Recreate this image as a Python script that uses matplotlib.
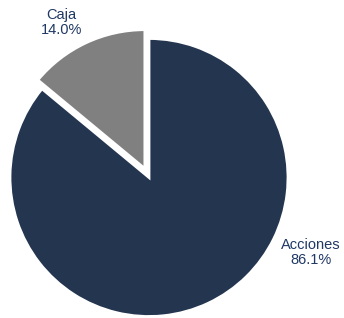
import matplotlib.pyplot as plt

# Datos
categorias = ["Acciones", "Caja"]
valores = [86.1, 14.0]
colores = ["#243550", "#808080"]
separacion = [0.0, 0.07]

plt.rcParams["font.family"] = ["Liberation Sans", "DejaVu Sans"]

fig = plt.figure(figsize=(3.44, 3.18), dpi=100)
ax = fig.add_axes([10 / 344, 1.5 / 318, 278 / 344, 278 / 318])

ax.pie(valores, colors=colores, explode=separacion, startangle=90,
       counterclock=False, wedgeprops=dict(edgecolor="white", linewidth=2))
ax.set_xlim(-1, 1)
ax.set_ylim(-1, 1)
ax.set_aspect("equal")
ax.axis("off")

# Etiquetas
pos_etiquetas = [(1.165, -0.54), (-0.63, 1.115)]
for nombre, valor, (x, y) in zip(categorias, valores, pos_etiquetas):
    ax.text(x, y, f"{nombre}\n{valor:.1f}%", ha="center", va="center",
            fontsize=10.5, color="#1f3864", clip_on=False, linespacing=1.05)

plt.savefig("out.png", dpi=100)
